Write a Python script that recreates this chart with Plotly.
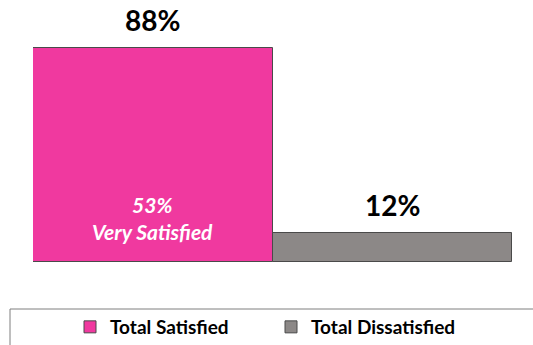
import plotly.graph_objects as go

categories = ["Total Satisfied", "Total Dissatisfied"]
values = [88, 12]
very_satisfied = 53
colors = ["#F0399F", "#8C8887"]

W, H = 533, 345
ml = 33
mr = W - 512
mt = 0
mb = H - 262
plot_h = H - mt - mb
px_per_unit = 214 / 88
ymax = plot_h / px_per_unit

def py(p):
    return (H - mb - p) / plot_h

def pxx(p):
    return (p - ml) / (W - ml - mr)

legend_x = [70, 271]
legend_names = ["legend", "legend2"]

fig = go.Figure()
for i, (c, v) in enumerate(zip(categories, values)):
    fig.add_trace(go.Bar(
        x=[i], y=[v], name=c, width=1, legend=legend_names[i],
        marker=dict(color=colors[i], line=dict(color="#4a4a4a", width=1)),
        hoverinfo="skip",
    ))
    fig.add_annotation(x=i, y=v, xref="x", yref="y", text=f"<b>{v}%</b>",
                       showarrow=False, yanchor="bottom", yshift=9,
                       font=dict(family="Lato", size=28, color="black"))

fig.add_annotation(x=0, y=0, yref="y", xref="x",
                   text=f"<i>{very_satisfied}%<br>Very Satisfied</i>",
                   showarrow=False, yanchor="bottom", yshift=16,
                   font=dict(family="Lato", size=21, color="white", weight="bold"))

fig.add_shape(type="rect", xref="paper", yref="paper",
              x0=pxx(10), x1=pxx(545), y0=py(309), y1=py(360),
              line=dict(color="#7f7f7f", width=1), fillcolor="rgba(0,0,0,0)")

leg_common = dict(orientation="h", yanchor="middle", y=py(327), xanchor="left",
                  font=dict(family="Lato", size=19, color="black", weight="bold"),
                  bgcolor="rgba(0,0,0,0)", itemwidth=30)

fig.update_layout(
    width=W, height=H,
    margin=dict(l=ml, r=mr, t=mt, b=mb, autoexpand=False),
    plot_bgcolor="white", paper_bgcolor="white",
    barmode="overlay", bargap=0,
    showlegend=True,
    legend=dict(x=pxx(legend_x[0]), **leg_common),
    legend2=dict(x=pxx(legend_x[1]), **leg_common),
    xaxis=dict(range=[-0.5, 1.5], visible=False),
    yaxis=dict(range=[0, ymax], visible=False),
)

fig.write_html("out.html", config={"displayModeBar": False},
               post_script="document.body.style.margin='0px';")
